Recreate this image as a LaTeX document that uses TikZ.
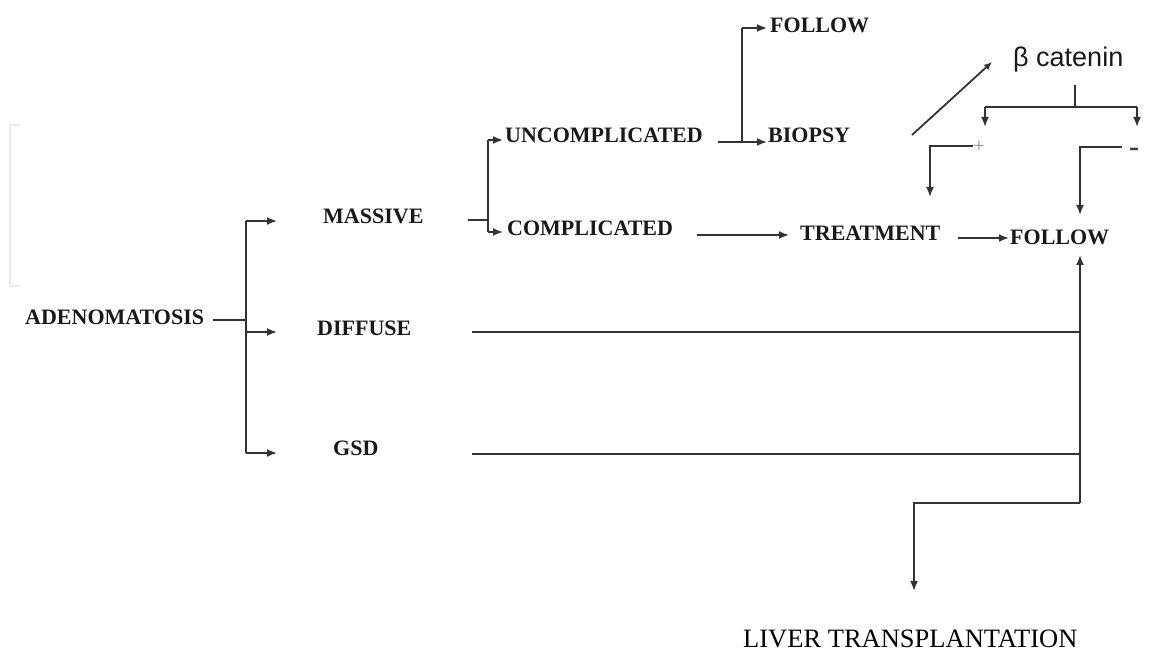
\documentclass[tikz,border=0pt]{standalone}
\usepackage{fontspec}
\setmainfont{Liberation Serif}
\newfontfamily\betafont{Liberation Sans}
\usetikzlibrary{arrows.meta}
\begin{document}
\begin{tikzpicture}[x=1pt,y=-1pt,
  lbl/.style={anchor=base west,inner sep=0pt,font=\fontsize{22}{24}\selectfont\bfseries,text=black!90},
  conn/.style={draw=black!80,line width=1.8pt},
  arr/.style={conn,-{Latex[length=10pt,width=8pt]}},
  faint/.style={draw=black!8,line width=1.2pt}]
\useasboundingbox (0,0) rectangle (1161,652);
% faint artefact bracket
\draw[faint] (20,125) -- (10,125) -- (10,286) -- (20,286);
% labels
\node[lbl] (adeno) at (25,324) {ADENOMATOSIS};
\node[lbl] (massive) at (323,224) {MASSIVE};
\node[lbl] (diffuse) at (317,335) {DIFFUSE};
\node[lbl] (gsd) at (333,455) {GSD};
\node[lbl] (uncomp) at (505,143) {UNCOMPLICATED};
\node[lbl] (comp) at (507,236) {COMPLICATED};
\node[lbl] (followA) at (770,33) {FOLLOW};
\node[lbl] (biopsy) at (768,143) {BIOPSY};
\node[lbl] (treat) at (800,241) {TREATMENT};
\node[lbl] (followB) at (1010,244) {FOLLOW};
\node[anchor=base west,inner sep=0pt,font=\betafont\fontsize{27}{30}\selectfont,text=black!90] (beta) at (1013,67) {β catenin};
\node[inner sep=0pt,font=\fontsize{20}{22}\selectfont,text=black!45] (plus) at (979,147) {+};
\node[inner sep=0pt,font=\fontsize{30}{32}\selectfont\bfseries,text=black!75] (minus) at (1134,152) {-};
\node[anchor=base west,inner sep=0pt,font=\fontsize{26.5}{29}\selectfont,text=black] (liver) at (743,647) {LIVER TRANSPLANTATION};
% coordinates
\coordinate (a0) at (213,320);
\coordinate (a1) at (246,320);
\coordinate (bm) at (246,221);
\coordinate (bd) at (246,332);
\coordinate (bg) at (246,453);
\coordinate (tm) at (277,221);
\coordinate (td) at (277,332);
\coordinate (tg) at (277,453);
\coordinate (m0) at (468,220);
\coordinate (m1) at (488,220);
\coordinate (mu) at (488,140);
\coordinate (mc) at (488,232);
\coordinate (tu) at (503,140);
\coordinate (tc) at (503,232);
\coordinate (u0) at (718,142);
\coordinate (u1) at (742,142);
\coordinate (uf) at (742,28);
\coordinate (tf) at (767,28);
\coordinate (tb) at (767,142);
\coordinate (c0) at (697,235);
\coordinate (c1) at (789,235);
\coordinate (t0) at (958,238);
\coordinate (t1) at (1009,238);
\coordinate (d0) at (912,135);
\coordinate (d1) at (992,62);
\coordinate (s0) at (1075,85);
\coordinate (s1) at (1075,107);
\coordinate (sl) at (985,107);
\coordinate (sr) at (1137,107);
\coordinate (sl1) at (985,127);
\coordinate (sr1) at (1137,127);
\coordinate (p0) at (973,146);
\coordinate (p1) at (930,146);
\coordinate (p2) at (930,197);
\coordinate (n0) at (1122,147);
\coordinate (n1) at (1080,147);
\coordinate (n2) at (1080,215);
\coordinate (df0) at (472,332);
\coordinate (df1) at (1080,332);
\coordinate (gs0) at (472,454);
\coordinate (gs1) at (1080,454);
\coordinate (v0) at (1080,503);
\coordinate (v1) at (1080,255);
\coordinate (l0) at (914,503);
\coordinate (l1) at (914,591);
% connectors
\draw[conn] (a0) -- (a1);
\draw[conn] (bm) -- (bg);
\draw[arr] (bm) -- (tm);
\draw[arr] (bd) -- (td);
\draw[arr] (bg) -- (tg);
\draw[conn] (m0) -- (m1);
\draw[conn] (mu) -- (mc);
\draw[arr] (mu) -- (tu);
\draw[arr] (mc) -- (tc);
\draw[conn] (u0) -- (u1);
\draw[conn] (uf) -- (u1);
\draw[arr] (uf) -- (tf);
\draw[arr] (u1) -- (tb);
\draw[arr] (c0) -- (c1);
\draw[arr] (t0) -- (t1);
\draw[conn,-{Latex[length=8pt,width=7pt]}] (d0) -- (d1);
\draw[conn] (s0) -- (s1);
\draw[conn] (sl) -- (sr);
\draw[arr] (sl) -- (sl1);
\draw[arr] (sr) -- (sr1);
\draw[arr] (p0) -- (p1) -- (p2);
\draw[arr] (n0) -- (n1) -- (n2);
\draw[conn] (df0) -- (df1);
\draw[conn] (gs0) -- (gs1);
\draw[arr] (v0) -- (v1);
\draw[arr] (v0) -- (l0) -- (l1);
\end{tikzpicture}
\end{document}
